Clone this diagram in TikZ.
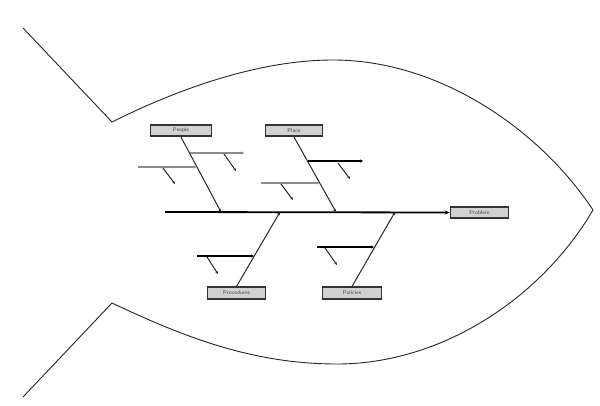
\documentclass[tikz,border=0pt]{standalone}
\usetikzlibrary{arrows.meta}
\begin{document}
\begin{tikzpicture}[x=1pt,y=-1pt,
  outline/.style={draw=black!85,line width=0.9pt},
  bone/.style={draw=black!85,line width=1pt,-{Stealth[length=3pt,width=3pt]}},
  spine/.style={draw=black,line width=1.8pt,-{Stealth[length=5pt,width=4pt]}},
  sub/.style={draw=black,line width=1.2pt,-{Stealth[length=3pt,width=3pt]}},
  subgray/.style={draw=black!45,line width=1.2pt,-{Stealth[length=3pt,width=3pt]}},
  tick/.style={draw=black!85,line width=1pt,-{Stealth[length=3pt,width=2.5pt]}},
  cat/.style={draw=black!80,line width=1.6pt,fill=black!18,inner sep=0pt,
    minimum height=11.5pt,font=\fontsize{5.5}{6}\selectfont\sffamily,text=black!75}]
\useasboundingbox (0,0) rectangle (600,405);
% fish outline
\draw[outline] (23,28) -- (112,122) .. controls (180,88) and (260,60) .. (333,60)
  .. controls (440,60) and (540,130) .. (593,210)
  .. controls (540,300) and (440,364) .. (337,364)
  .. controls (250,364) and (180,335) .. (112,303) -- (23,397);
% boxes
\node[cat,minimum width=61pt] (people) at (181,130.5) {People};
\node[cat,minimum width=57pt] (place) at (294,130.5) {Place};
\node[cat,minimum width=58pt] (proc) at (236.5,293) {Procedures};
\node[cat,minimum width=59pt] (pol) at (352,293) {Policies};
\node[cat,minimum width=58pt] (problem) at (479.5,212.5) {Problem};
% spine
\coordinate (tail) at (165,212);
\draw[spine] (tail) -- (problem.west);
% main bones
\coordinate (s1) at (221,212);
\coordinate (s2) at (336,212);
\coordinate (s3) at (280,212);
\coordinate (s4) at (395,212);
\draw[bone] (people.south) -- (s1);
\draw[bone] (place.south) -- (s2);
\draw[bone] (proc.north) -- (s3);
\draw[bone] (pol.north) -- (s4);
% People sub-bones
\coordinate (pa) at (189.5,153);
\coordinate (pae) at (244,153);
\draw[subgray] (pa) -- (pae);
\coordinate (pat1) at (224,154); \coordinate (pat2) at (236,171);
\draw[tick] (pat1) -- (pat2);
\coordinate (pbs) at (138,167);
\coordinate (pb) at (196.5,167);
\draw[subgray] (pbs) -- (pb);
\coordinate (pbt1) at (163,168); \coordinate (pbt2) at (175,184);
\draw[tick] (pbt1) -- (pbt2);
% Place sub-bones
\coordinate (la) at (307.5,161);
\coordinate (lae) at (363,161);
\draw[sub] (la) -- (lae);
\coordinate (lat1) at (338,163); \coordinate (lat2) at (350,179);
\draw[tick] (lat1) -- (lat2);
\coordinate (lbs) at (261,183);
\coordinate (lb) at (319.5,183);
\draw[subgray] (lbs) -- (lb);
\coordinate (lbt1) at (281,184); \coordinate (lbt2) at (293,200);
\draw[tick] (lbt1) -- (lbt2);
% Procedures sub-bone
\coordinate (ras) at (197,256);
\coordinate (ra) at (254,256);
\draw[sub] (ras) -- (ra);
\coordinate (rat1) at (207,257); \coordinate (rat2) at (218,274);
\draw[tick] (rat1) -- (rat2);
% Policies sub-bone
\coordinate (oas) at (317,247);
\coordinate (oa) at (374,247);
\draw[sub] (oas) -- (oa);
\coordinate (oat1) at (325,248); \coordinate (oat2) at (337,265);
\draw[tick] (oat1) -- (oat2);
\end{tikzpicture}
\end{document}
